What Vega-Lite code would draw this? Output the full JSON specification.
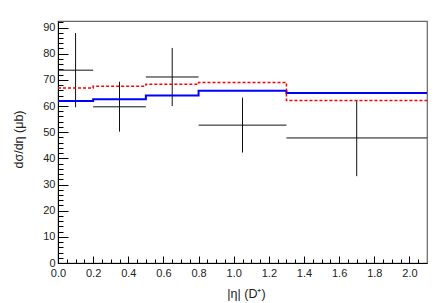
{
  "$schema": "https://vega.github.io/schema/vega-lite/v6.json",
  "autosize": {"type": "none"},
  "width": 369,
  "height": 242,
  "padding": {"left": 58, "top": 21, "right": 18, "bottom": 40},
  "config": {
    "view": {"stroke": "#666", "strokeWidth": 1.2},
    "font": "Liberation Sans",
    "axis": {"labelFont": "Liberation Sans", "titleFont": "Liberation Sans", "labelColor": "#222", "titleColor": "#222", "titleFontWeight": "normal", "grid": false, "domainColor": "#000", "tickColor": "#000", "labelOverlap": false, "labelBound": false, "labelFlush": false}
  },
  "datasets": {
    "points": [
      {"x": 0.1, "xlo": 0.0, "xhi": 0.2, "y": 73.7, "ylo": 59.5, "yhi": 87.9},
      {"x": 0.35, "xlo": 0.2, "xhi": 0.5, "y": 59.7, "ylo": 50.2, "yhi": 69.3},
      {"x": 0.65, "xlo": 0.5, "xhi": 0.8, "y": 71.1, "ylo": 60.0, "yhi": 82.2},
      {"x": 1.05, "xlo": 0.8, "xhi": 1.3, "y": 52.7, "ylo": 42.2, "yhi": 63.2},
      {"x": 1.7, "xlo": 1.3, "xhi": 2.1, "y": 47.8, "ylo": 33.2, "yhi": 62.2}
    ],
    "models": [
      {"edge": 0.0, "value": 61.9, "model": "blue"},
      {"edge": 0.2, "value": 62.6, "model": "blue"},
      {"edge": 0.5, "value": 64.0, "model": "blue"},
      {"edge": 0.8, "value": 65.8, "model": "blue"},
      {"edge": 1.3, "value": 65.0, "model": "blue"},
      {"edge": 2.1, "value": 65.0, "model": "blue"},
      {"edge": 0.0, "value": 66.9, "model": "red"},
      {"edge": 0.2, "value": 67.6, "model": "red"},
      {"edge": 0.5, "value": 68.3, "model": "red"},
      {"edge": 0.8, "value": 69.0, "model": "red"},
      {"edge": 1.3, "value": 62.1, "model": "red"},
      {"edge": 2.1, "value": 62.1, "model": "red"}
    ]
  },
  "layer": [
    {
      "data": {"name": "points"},
      "mark": {"type": "rule", "color": "#111", "strokeWidth": 1},
      "encoding": {
        "x": {"field": "xlo", "type": "quantitative", "scale": {"domain": [0, 2.1], "nice": false, "zero": false},
          "axis": {"orient": "bottom", "values": [0, 0.2, 0.4, 0.6, 0.8, 1.0, 1.2, 1.4, 1.6, 1.8, 2.0], "format": ".1f", "tickSize": -7, "labelPadding": 11, "labelFontSize": 11, "title": "|η| (D⁺)", "titleFontSize": 12.5, "titleBaseline": "middle", "titleY": 30, "titleX": 188}},
        "x2": {"field": "xhi"},
        "y": {"field": "y", "type": "quantitative", "scale": {"domain": [0, 92.5], "nice": false},
          "axis": {"orient": "left", "values": [0, 10, 20, 30, 40, 50, 60, 70, 80, 90], "tickSize": -10, "labelPadding": 13, "labelFontSize": 11, "title": "dσ/dη (μb)", "titleFontSize": 12.5, "titleBaseline": "middle", "titleX": -40, "titleY": 118}}
      }
    },
    {
      "data": {"name": "points"},
      "mark": {"type": "rule", "color": "#111", "strokeWidth": 1},
      "encoding": {
        "x": {"field": "x", "type": "quantitative", "axis": null},
        "y": {"field": "ylo", "type": "quantitative", "axis": null},
        "y2": {"field": "yhi"}
      }
    },
    {
      "data": {"name": "models"},
      "mark": {"type": "line", "interpolate": "step-after"},
      "encoding": {
        "x": {"field": "edge", "type": "quantitative",
          "axis": {"orient": "bottom", "values": [0.05,0.1,0.15,0.25,0.3,0.35,0.45,0.5,0.55,0.65,0.7,0.75,0.85,0.9,0.95,1.05,1.1,1.15,1.25,1.3,1.35,1.45,1.5,1.55,1.65,1.7,1.75,1.85,1.9,1.95,2.05], "tickSize": -4, "labels": false, "domain": false, "title": null}},
        "y": {"field": "value", "type": "quantitative",
          "axis": {"orient": "left", "values": [2,4,6,8,12,14,16,18,22,24,26,28,32,34,36,38,42,44,46,48,52,54,56,58,62,64,66,68,72,74,76,78,82,84,86,88,92], "tickSize": -5, "labels": false, "domain": false, "title": null}},
        "color": {"field": "model", "type": "nominal", "scale": {"domain": ["blue", "red"], "range": ["#0000ff", "#ff0000"]}, "legend": null},
        "strokeDash": {"field": "model", "type": "nominal", "scale": {"domain": ["blue", "red"], "range": [[1, 0], [3, 2]]}, "legend": null},
        "strokeWidth": {"field": "model", "type": "nominal", "scale": {"domain": ["blue", "red"], "range": [2, 1.5]}, "legend": null}
      }
    }
  ],
  "resolve": {"axis": {"x": "independent", "y": "independent"}}
}
